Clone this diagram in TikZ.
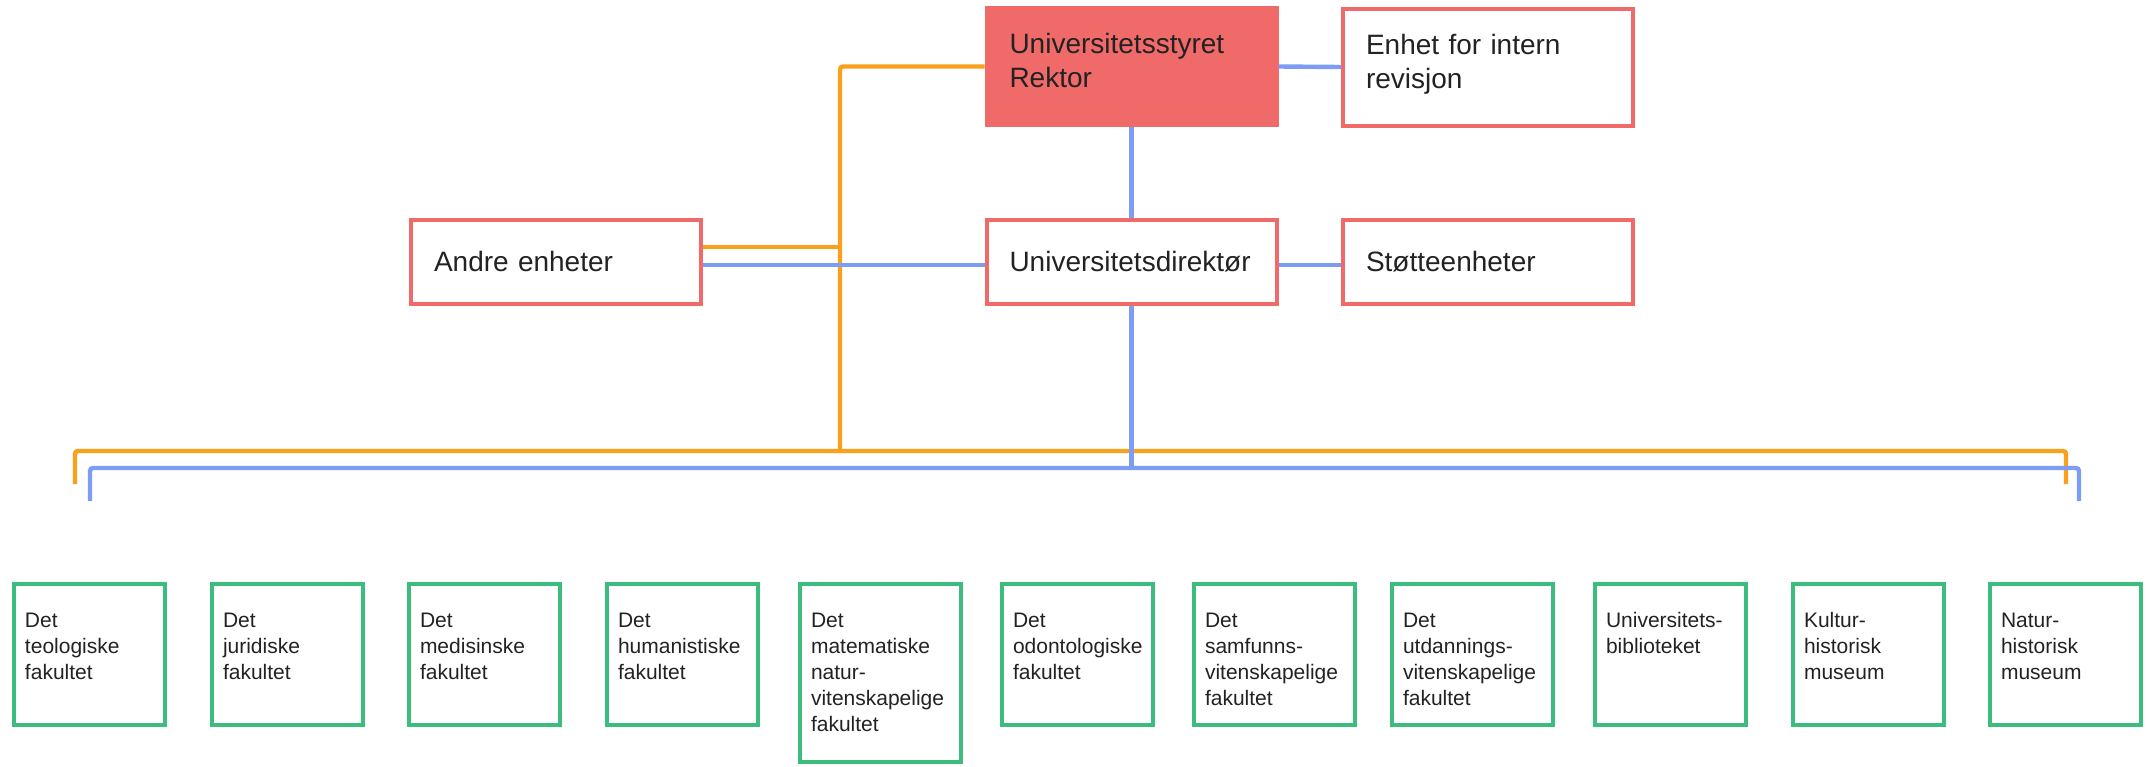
\documentclass[tikz,border=0pt]{standalone}
\usepackage{fontspec}
\setmainfont{Liberation Sans}
\definecolor{uiored}{HTML}{F06A6A}
\definecolor{faggreen}{HTML}{3DBD7D}
\definecolor{busorange}{HTML}{F9A11B}
\definecolor{busblue}{HTML}{7D9CF6}
\definecolor{textgray}{HTML}{222222}
\begin{document}
\begin{tikzpicture}[x=0.5pt, y=-0.5pt,
  enhet/.style={draw=uiored, line width=2pt, minimum width=145pt, minimum height=42pt, inner xsep=0pt, text width=122pt, align=left, text=textgray, font=\fontsize{14pt}{17pt}\selectfont},
  toppenhet/.style={enhet, minimum height=58.5pt, text depth=23pt},
  fak/.style={draw=faggreen, line width=2pt, anchor=north west, inner xsep=5.5pt, inner ysep=0pt, text width=64.5pt, text height=21.5pt, text depth=49pt, align=left, text=textgray, font=\fontsize{10.5pt}{13pt}\selectfont},
  fakbred/.style={fak, text width=69.5pt},
  blaa/.style={busblue, line width=2.2pt},
  oransje/.style={busorange, line width=2.2pt, rounded corners=1.5pt}]
\useasboundingbox (0,0) rectangle (2151,766);

\node[toppenhet, fill=uiored] (rektor) at (1131.5,66.5) {Universitetsstyret\\Rektor};
\node[toppenhet] (revisjon) at (1488,67) {Enhet for intern\\revisjon};
\node[enhet] (andre) at (556,261.5) {Andre enheter};
\node[enhet] (direktor) at (1131.5,261.5) {Universitetsdirektør};
\node[enhet] (stotte) at (1488,261.5) {Støtteenheter};

\node[fak] (teol) at (12,582) {Det\\teologiske\\fakultet};
\node[fak] (jur) at (210,582) {Det\\juridiske\\fakultet};
\node[fak] (med) at (407,582) {Det\\medisinske\\fakultet};
\node[fak] (hum) at (605,582) {Det\\humanistiske\\fakultet};
\node[fakbred, text depth=67.5pt] (matnat) at (798,582) {Det\\matematiske\\natur-\\vitenskapelige\\fakultet};
\node[fak] (odont) at (1000,582) {Det\\odontologiske\\fakultet};
\node[fakbred] (sv) at (1192,582) {Det\\samfunns-\\vitenskapelige\\fakultet};
\node[fakbred] (uv) at (1390,582) {Det\\utdannings-\\vitenskapelige\\fakultet};
\node[fak] (ub) at (1593,582) {Universitets-\\biblioteket};
\node[fak] (khm) at (1791,582) {Kultur-\\historisk\\museum};
\node[fak] (nhm) at (1988,582) {Natur-\\historisk\\museum};

\coordinate (ojunction) at (840,451);
\coordinate (oleft) at (75,484);
\coordinate (oright) at (2066,484);
\coordinate (bjunction) at (1131.5,468);
\coordinate (bleft) at (90,501);
\coordinate (bright) at (2079,501);

\draw[oransje] (rektor.west) -| (ojunction);
\draw[oransje] ([yshift=7.25pt]andre.east) -- ([yshift=7.25pt]andre.east -| ojunction);
\draw[oransje] (oleft) |- (ojunction) -| (oright);

\draw[blaa] (rektor.east) -- (revisjon.west);
\draw[blaa] (rektor.south) -- (direktor.north);
\draw[blaa] ([yshift=-1.75pt]andre.east) -- ([yshift=-1.75pt]direktor.west);
\draw[blaa] ([yshift=-1.75pt]direktor.east) -- ([yshift=-1.75pt]stotte.west);
\draw[blaa] (direktor.south) -- (bjunction);
\draw[blaa, rounded corners=1.5pt] (bleft) |- (bjunction) -| (bright);
\end{tikzpicture}
\end{document}
